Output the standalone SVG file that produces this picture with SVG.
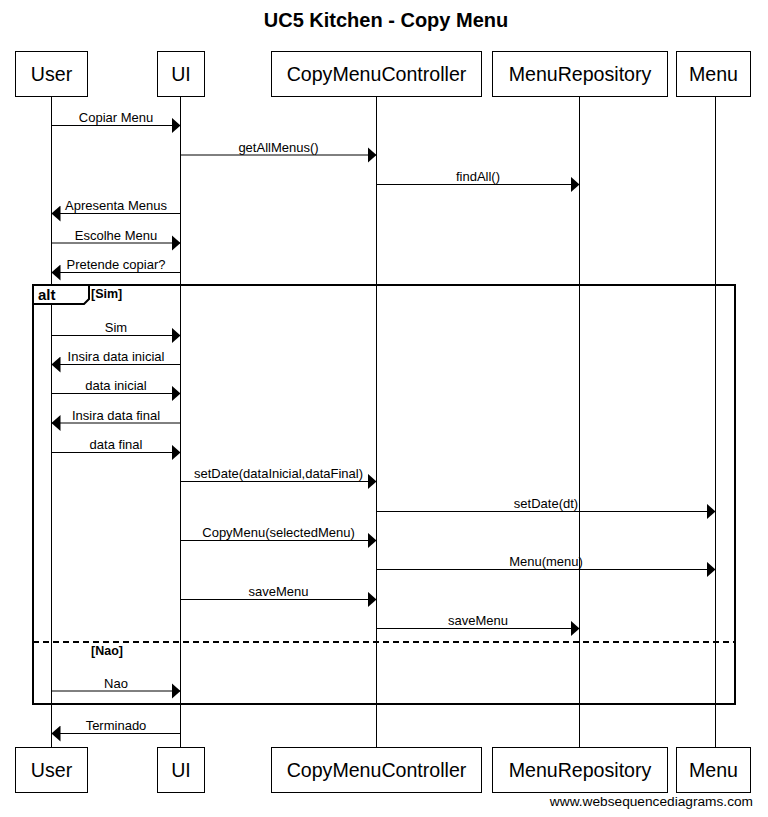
<svg xmlns="http://www.w3.org/2000/svg" width="768" height="817" viewBox="0 0 768 817">
<style>
text{font-family:"Liberation Sans",Arial,sans-serif;fill:#000}
.title{font-size:20px;font-weight:bold;text-anchor:middle}
.pbox{fill:#fff;stroke:#000;stroke-width:1}
.pname{font-size:19.6px;text-anchor:middle}
.life{stroke:#000;stroke-width:1}
.msg{stroke:#000;stroke-width:1;fill:none;marker-end:url(#ah)}
.lbl{font-size:13px;text-anchor:middle}
.frame{fill:none;stroke:#000;stroke-width:2}
.tab{fill:#fff;stroke:#000;stroke-width:2}
.altt{font-size:15px;font-weight:bold}
.guard{font-size:12.5px;font-weight:bold}
.sep{stroke:#000;stroke-width:2;stroke-dasharray:6 4}
.wm{font-size:13.7px;text-anchor:end}
</style>
<defs>
<marker id="ah" viewBox="0 0 9 16" refX="9" refY="8" markerWidth="9" markerHeight="16" orient="auto" markerUnits="userSpaceOnUse">
<path d="M0,0 L9,8 L0,16 z" fill="#000"/>
</marker>
</defs>
<rect width="768" height="817" fill="#fff"/>
<text class="title" x="386" y="27">UC5 Kitchen - Copy Menu</text>

<g id="lifelines">
<line class="life" x1="51.5" y1="97" x2="51.5" y2="747"/>
<line class="life" x1="180.5" y1="97" x2="180.5" y2="747"/>
<line class="life" x1="376.5" y1="97" x2="376.5" y2="747"/>
<line class="life" x1="579.5" y1="97" x2="579.5" y2="747"/>
<line class="life" x1="715.5" y1="97" x2="715.5" y2="747"/>
</g>

<g id="alt">
<rect class="frame" x="33" y="285" width="702" height="419"/>
<path class="tab" d="M33,285 L89,285 L89,299 L84,304 L33,304 Z"/>
<text class="altt" x="38" y="300">alt</text>
<text class="guard" x="91" y="298">[Sim]</text>
<line class="sep" x1="33" y1="642" x2="735" y2="642"/>
<text class="guard" x="91" y="655">[Nao]</text>
</g>

<g id="connectors">
<line class="msg" x1="51.5" y1="125.5" x2="180.5" y2="125.5"/><text class="lbl" x="116" y="122">Copiar Menu</text>
<line class="msg" x1="180.5" y1="155" x2="376.5" y2="155"/><text class="lbl" x="278.5" y="152">getAllMenus()</text>
<line class="msg" x1="376.5" y1="184.5" x2="579.5" y2="184.5"/><text class="lbl" x="478" y="181">findAll()</text>
<line class="msg" x1="180.5" y1="213.5" x2="51.5" y2="213.5"/><text class="lbl" x="116" y="210">Apresenta Menus</text>
<line class="msg" x1="51.5" y1="243" x2="180.5" y2="243"/><text class="lbl" x="116" y="240">Escolhe Menu</text>
<line class="msg" x1="180.5" y1="272.5" x2="51.5" y2="272.5"/><text class="lbl" x="116" y="269">Pretende copiar?</text>
<line class="msg" x1="51.5" y1="335.5" x2="180.5" y2="335.5"/><text class="lbl" x="116" y="332">Sim</text>
<line class="msg" x1="180.5" y1="364.5" x2="51.5" y2="364.5"/><text class="lbl" x="116" y="361">Insira data inicial</text>
<line class="msg" x1="51.5" y1="393.5" x2="180.5" y2="393.5"/><text class="lbl" x="116" y="390">data inicial</text>
<line class="msg" x1="180.5" y1="423" x2="51.5" y2="423"/><text class="lbl" x="116" y="420">Insira data final</text>
<line class="msg" x1="51.5" y1="452.5" x2="180.5" y2="452.5"/><text class="lbl" x="116" y="449">data final</text>
<line class="msg" x1="180.5" y1="481.5" x2="376.5" y2="481.5"/><text class="lbl" x="278.5" y="478">setDate(dataInicial,dataFinal)</text>
<line class="msg" x1="376.5" y1="511.5" x2="715.5" y2="511.5"/><text class="lbl" x="546" y="508">setDate(dt)</text>
<line class="msg" x1="180.5" y1="540.5" x2="376.5" y2="540.5"/><text class="lbl" x="278.5" y="537">CopyMenu(selectedMenu)</text>
<line class="msg" x1="376.5" y1="569.5" x2="715.5" y2="569.5"/><text class="lbl" x="546" y="566">Menu(menu)</text>
<line class="msg" x1="180.5" y1="599.5" x2="376.5" y2="599.5"/><text class="lbl" x="278.5" y="596">saveMenu</text>
<line class="msg" x1="376.5" y1="628.5" x2="579.5" y2="628.5"/><text class="lbl" x="478" y="625">saveMenu</text>
<line class="msg" x1="51.5" y1="691" x2="180.5" y2="691"/><text class="lbl" x="116" y="688">Nao</text>
<line class="msg" x1="180.5" y1="733.5" x2="51.5" y2="733.5"/><text class="lbl" x="116" y="730">Terminado</text>
</g>

<g id="User">
<rect class="pbox" x="15.5" y="51.5" width="72" height="45"/><text class="pname" x="51.5" y="81">User</text>
<rect class="pbox" x="15.5" y="747.5" width="72" height="45"/><text class="pname" x="51.5" y="777">User</text>
</g>
<g id="UI">
<rect class="pbox" x="157.5" y="51.5" width="47" height="45"/><text class="pname" x="181" y="81">UI</text>
<rect class="pbox" x="157.5" y="747.5" width="47" height="45"/><text class="pname" x="181" y="777">UI</text>
</g>
<g id="CopyMenuController">
<rect class="pbox" x="271.5" y="51.5" width="210" height="45"/><text class="pname" x="376.5" y="81">CopyMenuController</text>
<rect class="pbox" x="271.5" y="747.5" width="210" height="45"/><text class="pname" x="376.5" y="777">CopyMenuController</text>
</g>
<g id="MenuRepository">
<rect class="pbox" x="492.5" y="51.5" width="175" height="45"/><text class="pname" x="580" y="81">MenuRepository</text>
<rect class="pbox" x="492.5" y="747.5" width="175" height="45"/><text class="pname" x="580" y="777">MenuRepository</text>
</g>
<g id="Menu">
<rect class="pbox" x="676.5" y="51.5" width="74" height="45"/><text class="pname" x="713.5" y="81">Menu</text>
<rect class="pbox" x="676.5" y="747.5" width="74" height="45"/><text class="pname" x="713.5" y="777">Menu</text>
</g>
<text class="wm" x="753" y="806">www.websequencediagrams.com</text>
</svg>
